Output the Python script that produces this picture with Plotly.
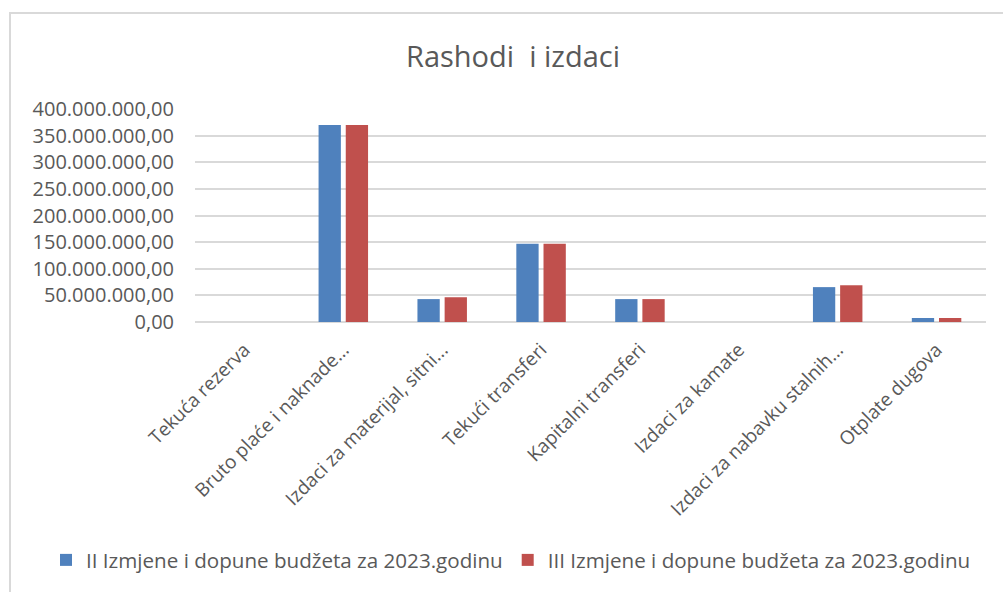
import plotly.graph_objects as go

categories = [
    "Tekuća rezerva",
    "Bruto plaće i naknade...",
    "Izdaci za materijal, sitni...",
    "Tekući transferi",
    "Kapitalni transferi",
    "Izdaci za kamate",
    "Izdaci za nabavku stalnih...",
    "Otplate dugova",
]
series_names = [
    "II Izmjene i dopune budžeta za 2023.godinu",
    "III Izmjene i dopune budžeta za 2023.godinu",
]
values_ii = [0, 370_000_000, 43_000_000, 147_000_000, 43_000_000, 0, 65_500_000, 7_500_000]
values_iii = [0, 370_000_000, 46_500_000, 147_000_000, 43_000_000, 0, 69_000_000, 7_500_000]
y_ticks = [0, 50_000_000, 100_000_000, 150_000_000, 200_000_000,
           250_000_000, 300_000_000, 350_000_000, 400_000_000]

BLUE = "#4F81BD"
RED = "#C0504D"
TXT = "#595959"
FONT = "Open Sans"

fig = go.Figure()
fig.add_trace(go.Bar(x=categories, y=values_ii, name=series_names[0],
                     marker=dict(color=BLUE, line=dict(width=0))))
fig.add_trace(go.Bar(x=categories, y=values_iii, name=series_names[1],
                     marker=dict(color=RED, line=dict(width=0))))

L, R, T, B = 195, 17, 109, 270
W, H = 1003, 592
pw = W - L - R
ph = H - T - B

fig.update_layout(
    width=W, height=H,
    margin=dict(l=L, r=R, t=T, b=B, pad=0, autoexpand=False),
    paper_bgcolor="white", plot_bgcolor="white",
    separators=",.",
    barmode="group", bargap=0.45, bargroupgap=0.18,
    font=dict(family=FONT, color=TXT, size=18),
    title=dict(text="Rashodi  i izdaci", x=513 / W, xref="container", xanchor="center",
               y=1 - 57 / H, yref="container", yanchor="middle",
               font=dict(family=FONT, size=29, color=TXT)),
    showlegend=True,
    legend=dict(orientation="h", x=(46 - L) / pw, xref="paper", xanchor="left",
                y=(T + ph - 560) / ph, yref="paper", yanchor="middle",
                font=dict(family=FONT, size=20.6, color=TXT),
                itemwidth=30, tracegroupgap=0,
                bgcolor="rgba(0,0,0,0)"),
    xaxis=dict(tickangle=-45, showgrid=False, showline=False, ticks="",
               automargin=False, ticklabelstandoff=12,
               tickfont=dict(family=FONT, size=19, color=TXT)),
    yaxis=dict(range=[0, 400_000_000], tickvals=y_ticks, tickformat=",.2f",
               showgrid=True, gridcolor="#D9D9D9", gridwidth=1.5,
               zeroline=True, zerolinecolor="#D9D9D9", zerolinewidth=1.5,
               showline=False, ticks="", ticklabelstandoff=20, automargin=False,
               tickfont=dict(family=FONT, size=20, color=TXT)),
    shapes=[dict(type="rect", xref="paper", yref="paper",
                 x0=(10 - L) / pw, x1=(1010 - L) / pw,
                 y0=(T + ph - 600) / ph, y1=(T + ph - 13) / ph,
                 line=dict(color="#D9D9D9", width=2), fillcolor="rgba(0,0,0,0)",
                 layer="below")],
)

fig.write_html(
    "out.html",
    config={"displayModeBar": False},
    post_script="document.body.style.margin='0';document.body.style.overflow='hidden';",
)
